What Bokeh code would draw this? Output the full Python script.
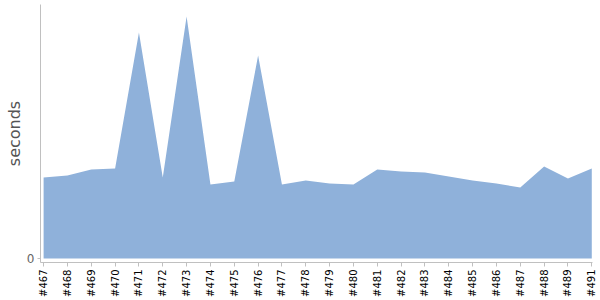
import math
from bokeh.plotting import figure
from bokeh.models import ColumnDataSource, FixedTicker, Range1d
from bokeh.embed import file_html
from bokeh.resources import INLINE

builds = ["#467", "#468", "#469", "#470", "#471", "#472", "#473", "#474", "#475", "#476",
          "#477", "#478", "#479", "#480", "#481", "#482", "#483", "#484", "#485", "#486",
          "#487", "#488", "#489", "#491"]
seconds = [8.1, 8.3, 8.9, 9.0, 22.6, 8.1, 24.2, 7.4, 7.7, 20.3,
           7.4, 7.8, 7.5, 7.4, 8.9, 8.7, 8.6, 8.2, 7.8, 7.5,
           7.1, 9.2, 8.0, 9.0]

idx = list(range(len(builds)))
src = ColumnDataSource(dict(x=idx, y=seconds))

p = figure(width=600, height=300, output_backend="svg", toolbar_location=None,
           x_range=Range1d(-0.13, len(builds) - 1 + 0.03),
           y_range=Range1d(-0.4, 25.4),
           min_border_left=40, min_border_right=8, min_border_top=4, min_border_bottom=38)
p.outline_line_color = None
p.background_fill_color = "white"
p.border_fill_color = "white"
p.xgrid.visible = False
p.ygrid.visible = False

p.varea(x="x", y1=0, y2="y", source=src, fill_color="#8fb1da", fill_alpha=1.0)

xa = p.xaxis[0]
xa.ticker = FixedTicker(ticks=idx)
xa.major_label_overrides = {i: b for i, b in enumerate(builds)}
xa.major_label_orientation = math.pi / 2
xa.axis_line_color = "#c0c0c0"
xa.major_tick_line_color = "#c0c0c0"
xa.major_tick_in = 0
xa.major_tick_out = 4
xa.minor_tick_line_color = None
xa.major_label_text_font = "DejaVu Sans"
xa.major_label_text_font_size = "10px"
xa.major_label_text_color = "black"
xa.major_label_standoff = 3

ya = p.yaxis[0]
ya.ticker = FixedTicker(ticks=[0])
ya.axis_line_color = "#c0c0c0"
ya.major_tick_line_color = "#c0c0c0"
ya.major_tick_in = 0
ya.major_tick_out = 3
ya.minor_tick_line_color = None
ya.major_label_text_font = "DejaVu Sans"
ya.major_label_text_font_size = "12px"
ya.major_label_text_color = "#666666"
ya.major_label_standoff = 3
ya.axis_label = "seconds"
ya.axis_label_text_font = "DejaVu Sans"
ya.axis_label_text_font_size = "16px"
ya.axis_label_text_font_style = "normal"
ya.axis_label_text_color = "#555555"
ya.axis_label_standoff = 0

open("out.html", "w").write(file_html(p, INLINE))
